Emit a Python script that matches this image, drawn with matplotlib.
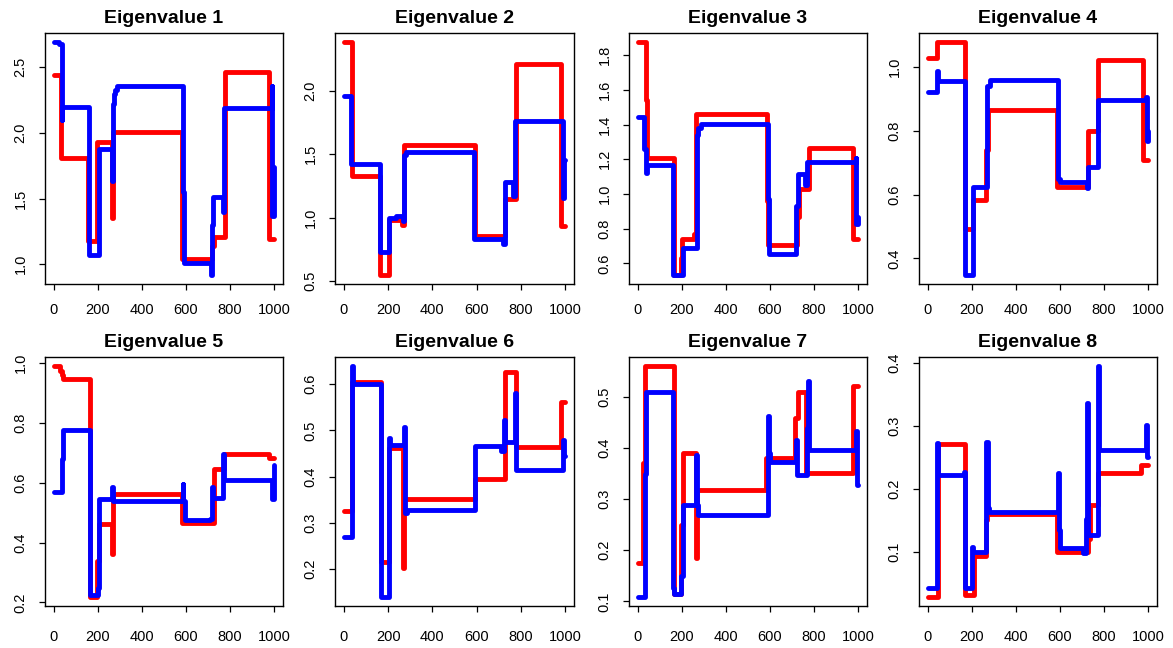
import matplotlib
matplotlib.use("Agg")
import matplotlib.pyplot as plt

plt.rcParams["font.family"] = ["Liberation Sans", "DejaVu Sans"]

# Piecewise-constant eigenvalue paths over time: each list pair gives the
# change points (x) and the level held from that point on (y).
ev1_red_x = [0, 33, 155, 196, 262, 268, 582, 718, 728, 776, 976, 1000]
ev1_red_y = [2.44, 1.81, 1.18, 1.93, 1.35, 2.01, 1.04, 1.14, 1.21, 2.46, 1.19, 1.19]
ev1_blue_x = [0, 25, 35, 39, 158, 206, 264, 268, 272, 278, 288, 586, 590, 714, 718, 724, 768, 773, 988, 992, 997, 1000]
ev1_blue_y = [2.69, 2.68, 2.10, 2.20, 1.07, 1.88, 1.63, 2.22, 2.30, 2.33, 2.36, 1.55, 1.01, 0.92, 1.30, 1.51, 1.40, 2.19, 2.36, 1.37, 1.74, 1.74]

ev2_red_x = [0, 37, 163, 203, 265, 272, 593, 728, 776, 982, 1000]
ev2_red_y = [2.38, 1.33, 0.55, 0.98, 0.945, 1.57, 0.855, 1.15, 2.21, 0.93, 0.93]
ev2_blue_x = [0, 33, 165, 205, 235, 268, 274, 280, 590, 720, 726, 766, 773, 990, 996, 1000]
ev2_blue_y = [1.955, 1.425, 0.725, 1.00, 1.015, 0.97, 1.49, 1.52, 0.828, 0.795, 1.28, 1.17, 1.76, 1.155, 1.455, 1.455]

ev3_red_x = [0, 35, 42, 162, 195, 202, 255, 262, 588, 592, 723, 732, 775, 977, 1000]
ev3_red_y = [1.875, 1.54, 1.205, 0.535, 0.63, 0.74, 0.77, 1.462, 0.96, 0.705, 0.87, 1.027, 1.263, 0.74, 0.74]
ev3_blue_x = [0, 30, 35, 40, 160, 205, 267, 275, 285, 592, 597, 720, 727, 757, 768, 988, 992, 997, 1000]
ev3_blue_y = [1.445, 1.26, 1.12, 1.165, 0.535, 0.69, 1.34, 1.38, 1.404, 0.97, 0.657, 0.93, 1.115, 1.05, 1.183, 1.21, 0.83, 0.867, 0.867]

ev4_red_x = [0, 42, 170, 205, 265, 272, 584, 727, 770, 978, 1000]
ev4_red_y = [1.029, 1.077, 0.492, 0.582, 0.739, 0.866, 0.624, 0.799, 1.021, 0.709, 0.709]
ev4_blue_x = [0, 40, 44, 168, 205, 270, 282, 592, 598, 724, 729, 773, 988, 993, 998, 1000]
ev4_blue_y = [0.922, 0.988, 0.957, 0.349, 0.624, 0.94, 0.96, 0.65, 0.638, 0.62, 0.685, 0.896, 0.905, 0.767, 0.80, 0.80]

ev5_red_x = [0, 28, 35, 40, 163, 196, 205, 264, 270, 583, 725, 770, 975, 1000]
ev5_red_y = [0.99, 0.975, 0.96, 0.947, 0.219, 0.34, 0.463, 0.362, 0.564, 0.466, 0.645, 0.695, 0.684, 0.684]
ev5_blue_x = [0, 36, 40, 163, 200, 205, 262, 268, 584, 588, 595, 710, 716, 721, 768, 773, 992, 997, 1000]
ev5_blue_y = [0.571, 0.68, 0.776, 0.225, 0.25, 0.547, 0.586, 0.539, 0.595, 0.539, 0.476, 0.48, 0.585, 0.549, 0.695, 0.611, 0.545, 0.66, 0.66]

ev6_red_x = [0, 38, 168, 205, 267, 273, 593, 727, 777, 980, 1000]
ev6_red_y = [0.325, 0.605, 0.215, 0.463, 0.202, 0.351, 0.395, 0.627, 0.464, 0.561, 0.561]
ev6_blue_x = [0, 36, 42, 168, 205, 210, 270, 275, 285, 592, 712, 722, 728, 773, 778, 990, 995, 1000]
ev6_blue_y = [0.27, 0.639, 0.60, 0.14, 0.483, 0.469, 0.507, 0.322, 0.327, 0.467, 0.455, 0.522, 0.476, 0.58, 0.415, 0.48, 0.445, 0.445]

ev7_red_x = [0, 25, 33, 165, 198, 204, 263, 270, 580, 714, 726, 765, 978, 1000]
ev7_red_y = [0.175, 0.37, 0.56, 0.115, 0.25, 0.391, 0.184, 0.317, 0.381, 0.459, 0.51, 0.352, 0.521, 0.521]
ev7_blue_x = [0, 33, 38, 158, 163, 198, 205, 265, 270, 275, 590, 595, 600, 719, 724, 766, 771, 775, 990, 995, 1000]
ev7_blue_y = [0.109, 0.35, 0.51, 0.127, 0.115, 0.15, 0.289, 0.386, 0.289, 0.269, 0.463, 0.39, 0.373, 0.416, 0.347, 0.44, 0.532, 0.396, 0.433, 0.327, 0.327]

ev8_red_x = [0, 45, 170, 208, 262, 270, 585, 727, 734, 771, 968, 1000]
ev8_red_y = [0.028, 0.2715, 0.031, 0.093, 0.15, 0.16, 0.099, 0.12, 0.174, 0.2253, 0.238, 0.238]
ev8_blue_x = [0, 40, 45, 165, 168, 200, 206, 266, 271, 276, 590, 595, 600, 705, 716, 721, 726, 771, 776, 988, 993, 1000]
ev8_blue_y = [0.0427, 0.272, 0.222, 0.227, 0.0416, 0.107, 0.099, 0.274, 0.17, 0.163, 0.225, 0.135, 0.105, 0.098, 0.152, 0.337, 0.1265, 0.395, 0.262, 0.302, 0.25, 0.25]

titles = [f"Eigenvalue {i}" for i in range(1, 9)]
x_ticks = [0, 200, 400, 600, 800, 1000]
y_ticks = [
    [1.0, 1.5, 2.0, 2.5],
    [0.5, 1.0, 1.5, 2.0],
    [0.6, 0.8, 1.0, 1.2, 1.4, 1.6, 1.8],
    [0.4, 0.6, 0.8, 1.0],
    [0.2, 0.4, 0.6, 0.8, 1.0],
    [0.2, 0.3, 0.4, 0.5, 0.6],
    [0.1, 0.2, 0.3, 0.4, 0.5],
    [0.1, 0.2, 0.3, 0.4],
]

series = [
    (ev1_red_x, ev1_red_y, ev1_blue_x, ev1_blue_y),
    (ev2_red_x, ev2_red_y, ev2_blue_x, ev2_blue_y),
    (ev3_red_x, ev3_red_y, ev3_blue_x, ev3_blue_y),
    (ev4_red_x, ev4_red_y, ev4_blue_x, ev4_blue_y),
    (ev5_red_x, ev5_red_y, ev5_blue_x, ev5_blue_y),
    (ev6_red_x, ev6_red_y, ev6_blue_x, ev6_blue_y),
    (ev7_red_x, ev7_red_y, ev7_blue_x, ev7_blue_y),
    (ev8_red_x, ev8_red_y, ev8_blue_x, ev8_blue_y),
]

W, H = 1173, 648
fig = plt.figure(figsize=(W / 100, H / 100), dpi=100)
fig.patch.set_facecolor("white")

# panel frames in pixels: (left, right) per column, (top, bottom) per row
cols = [(45, 283), (335, 574), (629, 867), (919, 1157)]
rows = [(33, 284), (357, 606)]
x_label_pad = [9.5, 13.0]

for i, (rx, ry, bx, by) in enumerate(series):
    l, r = cols[i % 4]
    t, b = rows[i // 4]
    ax = fig.add_axes([l / W, 1 - b / H, (r - l) / W, (b - t) / H])
    for xs, ys, col in ((rx, ry, "#ff0000"), (bx, by, "#0000ff")):
        ax.plot(xs, ys, drawstyle="steps-post", color=col, lw=3.5,
                solid_capstyle="round", solid_joinstyle="round")
    ax.margins(x=0.04, y=0.04)
    ax.set_xticks(x_ticks)
    ax.set_xticklabels([str(v) for v in x_ticks])
    ax.set_yticks(y_ticks[i])
    ax.set_yticklabels([f"{v:.1f}" for v in y_ticks[i]], rotation=90, va="center")
    ax.tick_params(direction="out", length=4.5, width=0.9, labelsize=10.5,
                   colors="black")
    ax.tick_params(axis="x", pad=x_label_pad[i // 4])
    ax.tick_params(axis="y", pad=8)
    for s in ax.spines.values():
        s.set_linewidth(1.0)
        s.set_color("black")
    ax.set_title(titles[i], fontsize=14, fontweight="bold", pad=7)

fig.savefig("out.png", dpi=100, facecolor="white")
